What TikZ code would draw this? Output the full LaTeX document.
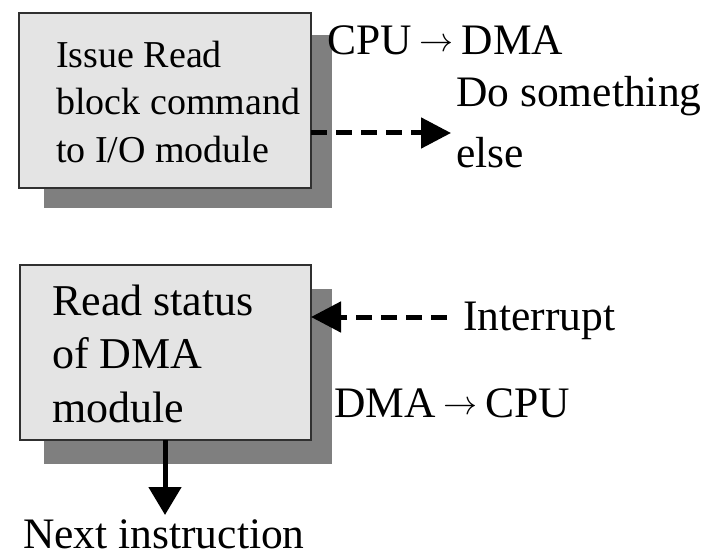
\documentclass[tikz,border=0pt]{standalone}
\usepackage{fontspec}
\usepackage{graphicx}
\setmainfont{Liberation Serif}
\usetikzlibrary{arrows.meta}
\definecolor{boxfill}{HTML}{E4E4E4}
\definecolor{shadowgray}{HTML}{7F7F7F}
\definecolor{edge}{HTML}{303030}
\newcommand{\myarrow}{\hspace{8pt}\raisebox{3pt}{\resizebox{34pt}{!}{$\rightarrow$}}\hspace{8pt}}
\begin{document}
\begin{tikzpicture}[x=1pt,y=-1pt,
  box/.style={draw=edge, line width=2.5pt, fill=boxfill, anchor=north west, inner sep=0pt, outer sep=0pt},
  shadowbox/.style={fill=shadowgray, anchor=north west, inner sep=0pt, outer sep=0pt, draw=none},
  txtA/.style={anchor=base west, inner sep=0pt, font=\fontsize{38}{46}\selectfont},
  txtB/.style={anchor=base west, inner sep=0pt, font=\fontsize{44}{52}\selectfont},
  txtC/.style={anchor=base west, inner sep=0pt, font=\fontsize{43.5}{60}\selectfont},
  dasharrow/.style={line width=5pt, dash pattern=on 16pt off 9pt, -{Triangle[length=30pt,width=30pt]}},
  solidarrow/.style={line width=5pt, -{Triangle[length=28pt,width=32pt]}}]
\useasboundingbox (0,0) rectangle (708,556);
% box 1
\node[shadowbox, minimum width=288pt, minimum height=173pt] (sh1) at (44,35) {};
\node[box, minimum width=292pt, minimum height=175pt] (box1) at (19,13) {};
\node[txtA] (l1a) at (56,68) {Issue Read};
\node[txtA] (l1b) at (56,115) {block command};
\node[txtA] (l1c) at (56,162) {to I/O module};
% box 2
\node[shadowbox, minimum width=288pt, minimum height=175pt] (sh2) at (44,289) {};
\node[box, minimum width=291pt, minimum height=175pt] (box2) at (20,265) {};
\node[txtB] (l2a) at (52,315) {Read status};
\node[txtB] (l2b) at (52,368) {of DMA};
\node[txtB] (l2c) at (52,422) {module};
% outside labels
\node[txtC] (cpudma) at (327,55) {CPU\myarrow DMA};
\node[txtC] (do1) at (456,107) {Do something};
\node[txtC] (do2) at (456,167) {else};
\node[txtC] (intr) at (463,330) {Interrupt};
\node[txtC] (dmacpu) at (334,417) {DMA\myarrow CPU};
\node[txtC] (next) at (23,548) {Next instruction};
% connectors
\coordinate (a1end) at (451,133);
\draw[dasharrow] (box1.east |- a1end) -- (a1end);
\coordinate (intstart) at (447,317);
\draw[dasharrow] (intstart) -- (box2.east |- intstart);
\coordinate (nextend) at (165,515);
\draw[solidarrow] (box2.south -| nextend) -- (nextend);
\end{tikzpicture}
\end{document}
